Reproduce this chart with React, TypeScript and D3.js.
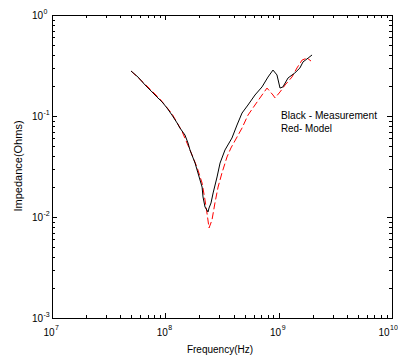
import React, { useEffect, useRef } from 'react';
import * as d3 from 'd3';

// measured impedance (black)
const measFreq = [
  4.98e7, 5.74e7, 6.62e7, 7.63e7, 8.44e7, 9.35e7, 1.035e8, 1.146e8, 1.27e8, 1.346e8,
  1.49e8, 1.585e8, 1.65e8, 1.83e8, 1.94e8, 2.11e8, 2.15e8, 2.24e8, 2.38e8, 2.43e8,
  2.53e8, 2.64e8, 2.86e8, 3.04e8, 3.36e8, 3.87e8, 4.29e8, 4.75e8, 5.36e8, 6.18e8,
  7.13e8, 8.05e8, 8.91e8, 9.66e8, 1.028e9, 1.09e9, 1.21e9, 1.39e9, 1.54e9, 1.64e9,
  1.82e9, 1.97e9,
];
const measZ = [
  0.279, 0.243, 0.203, 0.173, 0.154, 0.138, 0.12, 0.102, 0.0853, 0.076,
  0.0648, 0.054, 0.0461, 0.0342, 0.0273, 0.0198, 0.0158, 0.01256, 0.01122, 0.01228,
  0.01377, 0.0173, 0.0249, 0.0342, 0.0461, 0.0605, 0.0814, 0.107, 0.1285, 0.1614,
  0.194, 0.243, 0.285, 0.255, 0.189, 0.194, 0.238, 0.267, 0.299, 0.343,
  0.375, 0.402,
];

// model impedance (red, dashed)
const modelFreq = [
  4.98e7, 6.62e7, 8.98e7, 1.146e8, 1.4e8, 1.65e8, 1.9e8, 2.11e8, 2.24e8, 2.33e8,
  2.43e8, 2.58e8, 2.74e8, 2.92e8, 3.16e8, 3.5e8, 3.79e8, 4.75e8, 5.36e8, 6.18e8,
  7.13e8, 7.89e8, 8.91e8, 9.29e8, 1.028e9, 1.14e9, 1.31e9, 1.45e9, 1.61e9, 1.78e9,
  1.93e9,
];
const modelZ = [
  0.279, 0.207, 0.147, 0.105, 0.071, 0.0461, 0.0313, 0.0217, 0.0147, 0.01096,
  0.00778, 0.00934, 0.01377, 0.0198, 0.0273, 0.0393, 0.0482, 0.076, 0.102, 0.1285,
  0.1614, 0.189, 0.1614, 0.151, 0.173, 0.203, 0.243, 0.299, 0.358, 0.375,
  0.35,
];

const xDecades = [7, 8, 9, 10];
const yDecades = [0, -1, -2, -3];

const W = 398;
const H = 360;
const m = { left: 52, right: 392, top: 15, bottom: 318 };
const font = "'Liberation Sans', Arial, sans-serif";

export default function App() {
  const ref = useRef<SVGSVGElement>(null);

  useEffect(() => {
    const svg = d3.select(ref.current);
    svg.selectAll('*').remove();

    const x = d3.scaleLog().domain([1e7, 1e10]).range([m.left, m.right]);
    const y = d3.scaleLog().domain([1e-3, 1]).range([m.bottom, m.top]);

    svg.append('rect').attr('width', W).attr('height', H).attr('fill', '#fff');

    const ax = svg.append('g').attr('stroke', '#000').attr('stroke-width', 1);

    // ticks, inward on all four sides
    const isMajor = (v: number) => Math.abs(Math.log10(v) - Math.round(Math.log10(v))) < 1e-6;
    x.ticks().forEach((v) => {
      const px = Math.round(x(v)) + 0.5;
      const len = isMajor(v) ? 5 : 3;
      ax.append('line').attr('x1', px).attr('x2', px).attr('y1', m.bottom).attr('y2', m.bottom - len);
      ax.append('line').attr('x1', px).attr('x2', px).attr('y1', m.top).attr('y2', m.top + len);
    });
    y.ticks().forEach((v) => {
      const py = Math.round(y(v)) + 0.5;
      const len = isMajor(v) ? 5 : 3;
      ax.append('line').attr('y1', py).attr('y2', py).attr('x1', m.left).attr('x2', m.left + len);
      ax.append('line').attr('y1', py).attr('y2', py).attr('x1', m.right).attr('x2', m.right - len);
    });

    ax.append('rect')
      .attr('x', m.left + 0.5).attr('y', m.top + 0.5)
      .attr('width', m.right - m.left).attr('height', m.bottom - m.top)
      .attr('fill', 'none');

    const lbl = svg.append('g').attr('font-family', font).attr('fill', '#000');

    xDecades.forEach((e) => {
      // last label would run off the right edge, nudge it in
      const px = Math.min(x(Math.pow(10, e)), 387);
      lbl.append('text').attr('x', px + 2.5).attr('y', 336)
        .attr('text-anchor', 'end').attr('font-size', 10).text('10');
      lbl.append('text').attr('x', px + 3).attr('y', 330)
        .attr('font-size', 7).text(String(e));
    });
    yDecades.forEach((e) => {
      const py = y(Math.pow(10, e));
      lbl.append('text').attr('x', 43).attr('y', py + 4)
        .attr('text-anchor', 'end').attr('font-size', 10).text('10');
      lbl.append('text').attr('x', 43.5).attr('y', py - 1)
        .attr('font-size', 7).text(String(e));
    });

    lbl.append('text').attr('x', 220).attr('y', 353).attr('text-anchor', 'middle')
      .attr('font-size', 10).text('Frequency(Hz)');
    lbl.append('text').attr('transform', 'translate(22,166) rotate(-90)')
      .attr('text-anchor', 'middle').attr('font-size', 11).text('Impedance(Ohms)');

    lbl.append('text').attr('x', 281).attr('y', 119).attr('font-size', 10.5)
      .attr('textLength', 96).attr('lengthAdjust', 'spacingAndGlyphs').text('Black - Measurement');
    lbl.append('text').attr('x', 281).attr('y', 132).attr('font-size', 10.5)
      .attr('textLength', 51).attr('lengthAdjust', 'spacingAndGlyphs').text('Red- Model');

    const line = d3.line<[number, number]>().x((d) => x(d[0])).y((d) => y(d[1]));

    svg.append('path')
      .datum(d3.zip(modelFreq, modelZ) as [number, number][])
      .attr('d', line)
      .attr('fill', 'none').attr('stroke', '#ff0000').attr('stroke-width', 1)
      .attr('stroke-dasharray', '7,3');

    svg.append('path')
      .datum(d3.zip(measFreq, measZ) as [number, number][])
      .attr('d', line)
      .attr('fill', 'none').attr('stroke', '#000').attr('stroke-width', 1);
  }, []);

  return (
    <svg ref={ref} width={W} height={H}
      style={{ position: 'absolute', left: 0, top: 0, display: 'block' }} />
  );
}
